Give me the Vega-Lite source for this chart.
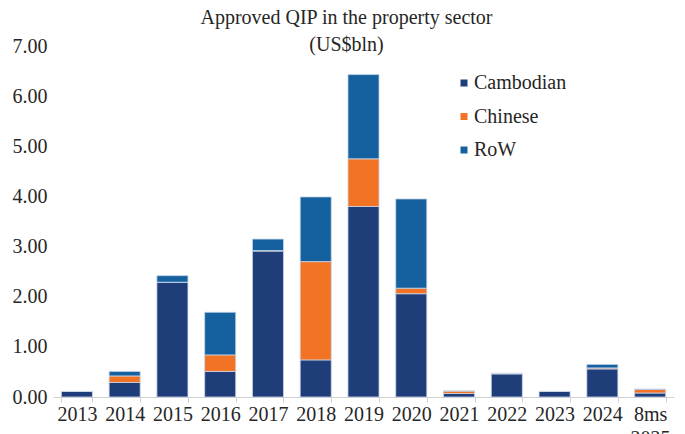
{
  "$schema": "https://vega.github.io/schema/vega-lite/v6.json",
  "width": 621,
  "height": 351,
  "autosize": {"type": "none"},
  "padding": {"left": 53, "top": 46, "right": 11, "bottom": 37},
  "background": "white",
  "config": {
    "view": {"stroke": null},
    "font": "serif",
    "axis": {"labelFont": "serif"},
    "legend": {"labelFont": "serif"}
  },
  "title": {
    "text": ["Approved QIP in the property sector", "(US$bln)"],
    "font": "serif",
    "fontSize": 20,
    "fontWeight": "normal",
    "color": "#262626",
    "anchor": "middle",
    "frame": "group",
    "dx": -17,
    "offset": -19,
    "lineHeight": 27
  },
  "data": {
    "values": [
      {"year": "2013", "origin": "Cambodian", "value": 0.11},
      {"year": "2013", "origin": "Chinese", "value": 0},
      {"year": "2013", "origin": "RoW", "value": 0},
      {"year": "2014", "origin": "Cambodian", "value": 0.29},
      {"year": "2014", "origin": "Chinese", "value": 0.13},
      {"year": "2014", "origin": "RoW", "value": 0.09},
      {"year": "2015", "origin": "Cambodian", "value": 2.29},
      {"year": "2015", "origin": "Chinese", "value": 0},
      {"year": "2015", "origin": "RoW", "value": 0.13},
      {"year": "2016", "origin": "Cambodian", "value": 0.51},
      {"year": "2016", "origin": "Chinese", "value": 0.33},
      {"year": "2016", "origin": "RoW", "value": 0.85},
      {"year": "2017", "origin": "Cambodian", "value": 2.91},
      {"year": "2017", "origin": "Chinese", "value": 0.01},
      {"year": "2017", "origin": "RoW", "value": 0.23},
      {"year": "2018", "origin": "Cambodian", "value": 0.74},
      {"year": "2018", "origin": "Chinese", "value": 1.96},
      {"year": "2018", "origin": "RoW", "value": 1.29},
      {"year": "2019", "origin": "Cambodian", "value": 3.80},
      {"year": "2019", "origin": "Chinese", "value": 0.95},
      {"year": "2019", "origin": "RoW", "value": 1.68},
      {"year": "2020", "origin": "Cambodian", "value": 2.06},
      {"year": "2020", "origin": "Chinese", "value": 0.11},
      {"year": "2020", "origin": "RoW", "value": 1.78},
      {"year": "2021", "origin": "Cambodian", "value": 0.07},
      {"year": "2021", "origin": "Chinese", "value": 0.05},
      {"year": "2021", "origin": "RoW", "value": 0.0},
      {"year": "2022", "origin": "Cambodian", "value": 0.46},
      {"year": "2022", "origin": "Chinese", "value": 0.01},
      {"year": "2022", "origin": "RoW", "value": 0},
      {"year": "2023", "origin": "Cambodian", "value": 0.11},
      {"year": "2023", "origin": "Chinese", "value": 0},
      {"year": "2023", "origin": "RoW", "value": 0},
      {"year": "2024", "origin": "Cambodian", "value": 0.56},
      {"year": "2024", "origin": "Chinese", "value": 0.02},
      {"year": "2024", "origin": "RoW", "value": 0.07},
      {"year": "8ms 2025", "origin": "Cambodian", "value": 0.08},
      {"year": "8ms 2025", "origin": "Chinese", "value": 0.07},
      {"year": "8ms 2025", "origin": "RoW", "value": 0.01}
    ]
  },
  "mark": {"type": "bar", "stroke": "#c9d6e8", "strokeWidth": 0.8},
  "encoding": {
    "x": {
      "field": "year",
      "type": "nominal",
      "sort": null,
      "scale": {"paddingInner": 0.35, "paddingOuter": 0.175},
      "axis": {
        "title": null,
        "labelAngle": 0,
        "labelFont": "serif",
        "labelFontSize": 20,
        "labelColor": "#262626",
        "labelPadding": 2,
        "labelLineHeight": 24,
        "labelExpr": "datum.value == '8ms 2025' ? ['8ms', '2025'] : datum.label",
        "domainColor": "#d0d0d0",
        "tickColor": "#d0d0d0",
        "tickSize": 5,
        "tickBand": "extent",
        "grid": false
      }
    },
    "y": {
      "field": "value",
      "type": "quantitative",
      "aggregate": "sum",
      "stack": "zero",
      "scale": {"domain": [0, 7], "nice": false},
      "axis": {
        "title": null,
        "values": [0, 1, 2, 3, 4, 5, 6, 7],
        "format": ".2f",
        "labelFont": "serif",
        "labelFontSize": 20,
        "labelColor": "#262626",
        "labelPadding": 6,
        "domain": false,
        "ticks": false,
        "grid": false
      }
    },
    "color": {
      "field": "origin",
      "type": "nominal",
      "scale": {
        "domain": ["Cambodian", "Chinese", "RoW"],
        "range": ["#1f3e79", "#f37324", "#15609f"]
      },
      "legend": {
        "title": null,
        "orient": "none",
        "legendX": 401,
        "legendY": 27,
        "padding": 0,
        "symbolType": "square",
        "symbolSize": 49,
        "symbolStrokeWidth": 0,
        "labelFont": "serif",
        "labelFontSize": 20,
        "labelColor": "#262626",
        "labelOffset": 0,
        "rowPadding": 13.5
      }
    },
    "order": {"field": "origin", "type": "nominal", "sort": "ascending"}
  }
}
